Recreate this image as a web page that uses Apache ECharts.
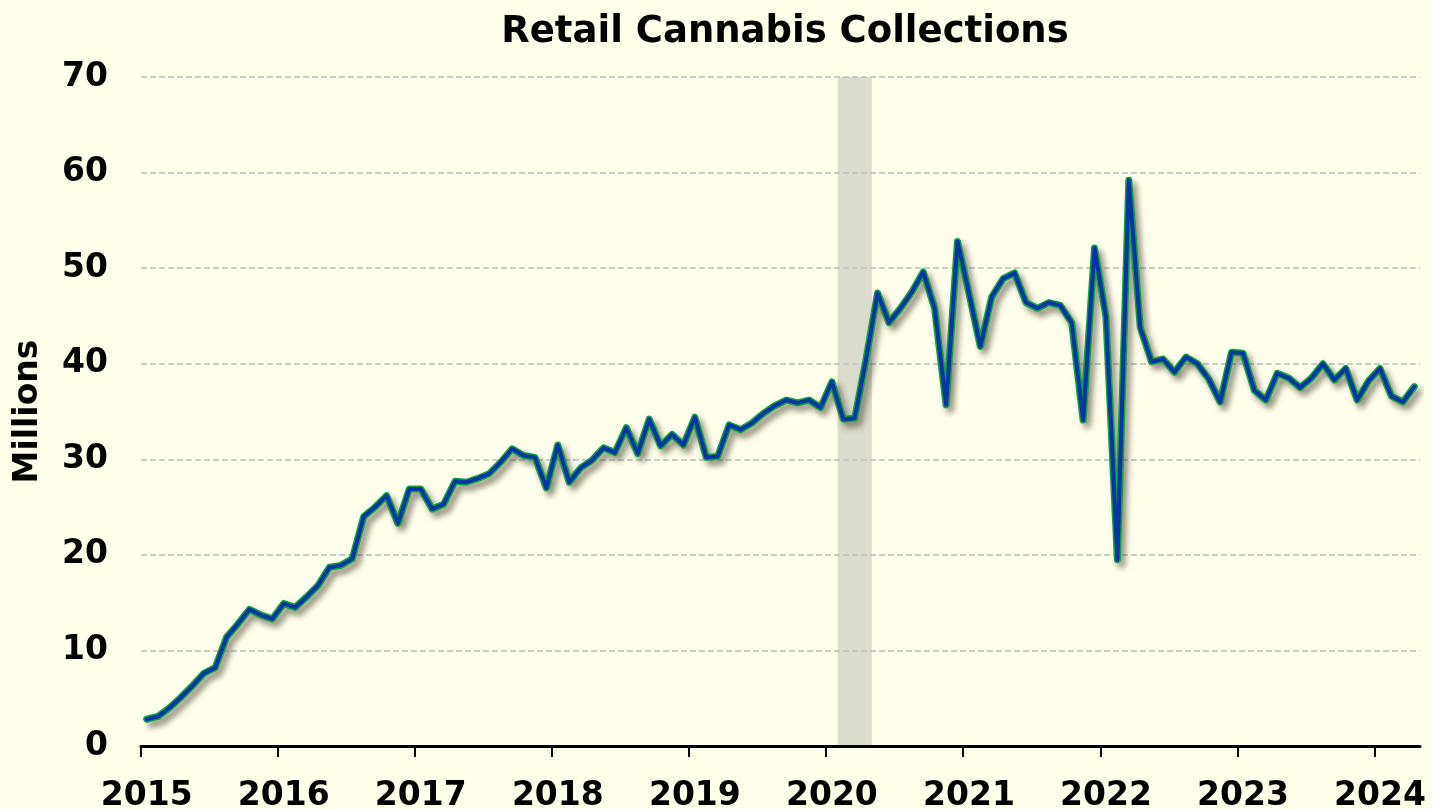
<!DOCTYPE html>
<html>
<head>
<meta charset="utf-8">
<script src="https://cdn.jsdelivr.net/npm/echarts@6/dist/echarts.min.js"></script>
<style>
html,body{margin:0;padding:0;background:#FFFFEB;}
#c{width:1433px;height:809px;}
</style>
</head>
<body>
<div id="c"></div>
<script>
// ---- data (monthly, millions) ----
const years = [2015, 2016, 2017, 2018, 2019, 2020, 2021, 2022, 2023, 2024];
const monthCodes = ['01','02','03','04','05','06','07','08','09','10','11','12'];
const values2015 = [2.8, 3.1, 4.0, 5.1, 6.3, 7.6, 8.2, 11.4, 12.8, 14.3, 13.7, 13.3];
const values2016 = [14.9, 14.5, 15.6, 16.8, 18.7, 18.9, 19.6, 24.0, 25.0, 26.2, 23.3, 26.9];
const values2017 = [26.9, 24.8, 25.3, 27.7, 27.6, 28.0, 28.5, 29.7, 31.1, 30.4, 30.2, 27.0];
const values2018 = [31.5, 27.6, 29.1, 29.9, 31.2, 30.7, 33.3, 30.6, 34.2, 31.4, 32.6, 31.5];
const values2019 = [34.4, 30.2, 30.3, 33.6, 33.1, 33.8, 34.8, 35.6, 36.2, 35.9, 36.2, 35.4];
const values2020 = [38.1, 34.2, 34.3, 40.5, 47.4, 44.3, 45.8, 47.5, 49.6, 45.8, 35.7, 52.8];
const values2021 = [47.4, 41.8, 47.0, 48.9, 49.5, 46.4, 45.8, 46.4, 46.1, 44.3, 34.1, 52.1];
const values2022 = [44.9, 19.5, 59.2, 43.8, 40.2, 40.5, 39.1, 40.7, 40.0, 38.4, 36.0, 41.2];
const values2023 = [41.1, 37.2, 36.2, 39.0, 38.5, 37.5, 38.5, 40.0, 38.3, 39.5, 36.2, 38.2];
const values2024 = [39.5, 36.6, 36.0, 37.6];
// recession shading: from the start of recessionStart to the start of recessionEnd
const recessionStart = '2020-02';
const recessionEnd = '2020-05';
const yMin = 0, yMax = 70, yStep = 10;

// ---- build series arrays ----
const yearValues = [values2015, values2016, values2017, values2018, values2019,
                    values2020, values2021, values2022, values2023, values2024];
const categories = [];
const values = [];
years.forEach(function (y, k) {
  yearValues[k].forEach(function (v, m) {
    categories.push(y + '-' + monthCodes[m]);
    values.push(v);
  });
});
// month boundaries (start of each month, plus the start of the month after the last)
const boundaries = categories.concat(['2024-05']);

const FONT = 'DejaVu Sans';
const chart = echarts.init(document.getElementById('c'), null, {renderer: 'canvas'});
chart.setOption({
  animation: false,
  backgroundColor: '#FFFFEB',
  title: {
    text: 'Retail Cannabis Collections',
    left: 780,
    textAlign: 'center',
    top: 9,
    textStyle: {fontFamily: FONT, fontSize: 37, fontWeight: 'bold', color: '#000'}
  },
  grid: {left: 141, right: 13, top: 77, bottom: 63, containLabel: false, outerBoundsMode: 'none'},
  xAxis: [{
    type: 'category',
    data: categories,
    boundaryGap: true,
    axisLine: {show: true, lineStyle: {color: '#000', width: 3}},
    axisTick: {show: false},
    splitLine: {show: false},
    axisLabel: {
      interval: function (idx) { return idx % 12 === 0; },
      formatter: function (v) { return v.slice(0, 4); },
      fontFamily: FONT, fontSize: 33, fontWeight: 'bold', color: '#000',
      margin: 34
    }
  }, {
    type: 'category',
    data: boundaries,
    boundaryGap: false,
    position: 'bottom',
    axisLine: {show: false},
    axisLabel: {show: false},
    splitLine: {show: false},
    axisTick: {
      show: true,
      interval: function (idx) { return idx % 12 === 0; },
      length: 11,
      lineStyle: {color: '#000', width: 2}
    }
  }],
  yAxis: {
    type: 'value',
    min: yMin, max: yMax, interval: yStep,
    name: 'Millions',
    nameLocation: 'middle',
    nameGap: 96,
    nameTextStyle: {fontFamily: FONT, fontSize: 33, fontWeight: 'bold', color: '#000'},
    axisLine: {show: false},
    axisTick: {show: false},
    axisLabel: {fontFamily: FONT, fontSize: 33, fontWeight: 'bold', color: '#000', margin: 33},
    splitLine: {show: true, lineStyle: {color: '#BDBDBD', width: 1.5, type: [6, 3]}}
  },
  series: [{
    type: 'line',
    xAxisIndex: 1,
    data: [],
    silent: true,
    z: -1,
    markArea: {
      silent: true,
      z: -1,
      itemStyle: {color: '#DCDCCD'},
      data: [[{xAxis: recessionStart, yAxis: yMin}, {xAxis: recessionEnd, yAxis: yMax}]]
    }
  }, {
    type: 'line',
    data: values,
    xAxisIndex: 0,
    showSymbol: false,
    symbol: 'none',
    silent: true,
    lineStyle: {
      color: '#10A040', width: 7, join: 'round', cap: 'round',
      shadowColor: 'rgba(60,60,40,0.6)', shadowBlur: 6, shadowOffsetX: 4, shadowOffsetY: 5
    },
    z: 3
  }, {
    type: 'line',
    data: values,
    xAxisIndex: 0,
    showSymbol: false,
    symbol: 'none',
    silent: true,
    lineStyle: {color: '#0036A3', width: 4, join: 'round', cap: 'round'},
    z: 4
  }]
});
</script>
</body>
</html>
